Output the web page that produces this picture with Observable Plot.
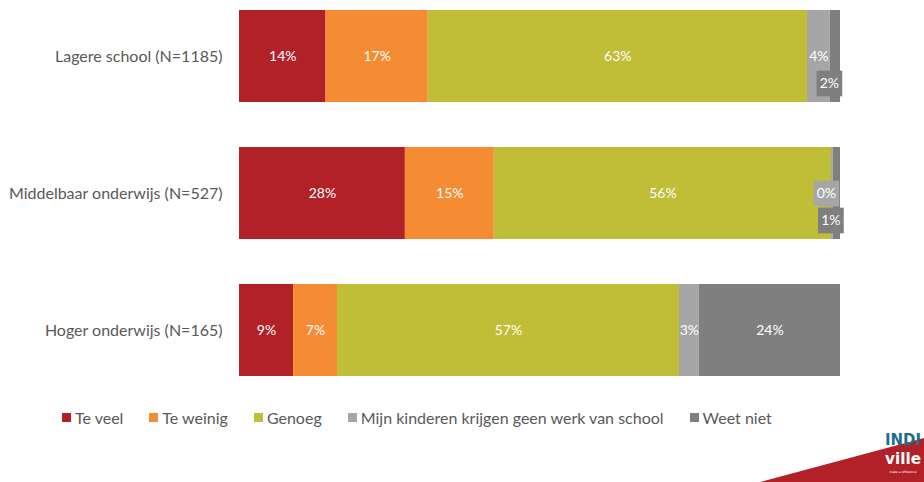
<!DOCTYPE html>
<html>
<head>
<meta charset="utf-8">
<script src="https://cdn.jsdelivr.net/npm/d3@7"></script>
<script src="https://cdn.jsdelivr.net/npm/@observablehq/plot@0.6"></script>
<style>
  body { margin: 0; background: #fff; width: 924px; height: 482px; overflow: hidden; position: relative; font-family: Lato, "Open Sans", sans-serif; }
  #legend { display: flex; align-items: center; padding-left: 62px; margin-top: 12px; height: 20px; font-size: 16px; color: #595959; }
  #legend .item { display: flex; align-items: center; margin-right: 26px; white-space: nowrap; }
  #legend .sw { width: 9px; height: 9px; margin-right: 4px; }
  #logo { position: absolute; left: 750px; top: 400px; }
</style>
</head>
<body>
<div id="chart"></div>
<div id="legend"></div>
<svg id="logo" width="174" height="82"></svg>
<script>
const categories = ["Lagere school (N=1185)", "Middelbaar onderwijs (N=527)", "Hoger onderwijs (N=165)"];
const series = ["Te veel", "Te weinig", "Genoeg", "Mijn kinderen krijgen geen werk van school", "Weet niet"];
const teVeel   = [14.4, 27.6, 9.0];
const teWeinig = [17.0, 14.8, 7.3];
const genoeg   = [63.1, 56.1, 56.9];
const geenWerk = [3.8, 0.3, 3.3];
const weetNiet = [1.7, 1.2, 23.5];
const colors = ["#B22028", "#F58B33", "#C0BD36", "#A6A6A6", "#7F7F7F"];

const seriesValues = [teVeel, teWeinig, genoeg, geenWerk, weetNiet];
const rows = [];
categories.forEach((cat, i) => {
  let acc = 0;
  seriesValues.forEach((vals, s) => {
    const v = vals[i];
    rows.push({cat, series: series[s], si: s, value: v, x1: acc, x2: acc + v, mid: acc + v / 2, label: Math.round(v) + "%"});
    acc += v;
  });
});
const inline = rows.filter(d => d.value >= 2.5);
const calloutCenter = rows.filter(d => d.value < 2.5 && d.si !== 4);
const calloutBelow = rows.filter(d => d.value < 2.5 && d.si === 4);

const chart = Plot.plot({
  width: 924,
  height: 395,
  marginLeft: 239,
  marginRight: 84,
  marginTop: 10,
  marginBottom: 19,
  style: {fontFamily: "Lato, 'Open Sans', sans-serif", fontSize: "16px", color: "#595959", background: "#fff"},
  x: {domain: [0, 100], axis: null},
  y: {domain: categories, paddingInner: 0.33, paddingOuter: 0, label: null, tickSize: 0, tickPadding: 17},
  color: {domain: series, range: colors},
  marks: [
    Plot.barX(rows, {x1: "x1", x2: "x2", y: "cat", fill: "series"}),
    Plot.dot(calloutCenter, {x: "mid", y: "cat", dx: -6, symbol: "square", r: 14.5, fill: "series"}),
    Plot.dot(calloutBelow, {x: "mid", y: "cat", dx: -6, dy: 27, symbol: "square", r: 14.5, fill: "series"}),
    Plot.text(inline, {x: "mid", y: "cat", text: "label", fill: "#fff", fontSize: 14}),
    Plot.text(calloutCenter, {x: "mid", y: "cat", dx: -6, text: "label", fill: "#fff", fontSize: 14}),
    Plot.text(calloutBelow, {x: "mid", y: "cat", dx: -6, dy: 27, text: "label", fill: "#fff", fontSize: 14})
  ]
});
document.getElementById("chart").appendChild(chart);

const legend = document.getElementById("legend");
series.forEach((s, i) => {
  const item = document.createElement("div");
  item.className = "item";
  const sw = document.createElement("span");
  sw.className = "sw";
  sw.style.background = colors[i];
  const t = document.createElement("span");
  t.textContent = s;
  item.appendChild(sw);
  item.appendChild(t);
  legend.appendChild(item);
});

// decorative logo
const logo = d3.select("#logo");
logo.append("polygon").attr("points", "10,82 174,82 174,38").attr("fill", "#B22028");
logo.append("text").attr("x", 135).attr("y", 45)
  .attr("font-family", "'DejaVu Sans Condensed', sans-serif").attr("font-weight", "bold")
  .attr("font-size", 15).attr("textLength", 36).attr("lengthAdjust", "spacingAndGlyphs")
  .attr("fill", "#1B6E8C").text("INDI");
logo.append("text").attr("x", 135).attr("y", 64)
  .attr("font-family", "'DejaVu Sans Condensed', sans-serif").attr("font-weight", "bold")
  .attr("font-size", 15).attr("textLength", 36).attr("lengthAdjust", "spacingAndGlyphs")
  .attr("fill", "#fff").text("ville");
logo.append("text").attr("x", 153).attr("y", 73).attr("text-anchor", "middle")
  .attr("font-family", "'DejaVu Sans', sans-serif").attr("font-size", 3).attr("fill", "#fff").text("make a difference");
</script>
</body>
</html>
